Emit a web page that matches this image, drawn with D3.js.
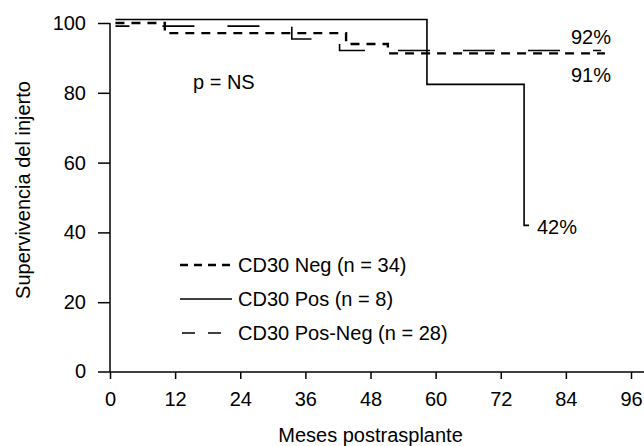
<!DOCTYPE html>
<html lang="es">
<head>
  <meta charset="UTF-8">
  <title>Supervivencia del injerto</title>
  <script src="https://d3js.org/d3.v7.min.js"></script>
  <style>
    body { margin: 0; background: #fff; }
    text { font-family: "Liberation Sans", Arial, sans-serif; font-size: 20px; fill: #000; }
  </style>
</head>
<body>
  <svg width="644" height="446"></svg>

  <script>
    // curvas (meses, % supervivencia)
    const negMonths = [1, 10.1, 43.5, 51.2, 91.2];
    const negSurv = [100, 97.1, 94.0, 91.3, 91.3];
    const posMonths = [1, 58.4, 76.3, 77.2];
    const posSurv = [101, 82.4, 42, 42];
    const posNegMonths = [1, 33.5, 42.3, 90.5];
    const posNegSurv = [99.1, 95.4, 92.1, 92.1];

    const xTicks = [0, 12, 24, 36, 48, 60, 72, 84, 96];
    const yTicks = [0, 20, 40, 60, 80, 100];
    const legendLabels = ["CD30 Neg (n = 34)", "CD30 Pos (n = 8)", "CD30 Pos-Neg (n = 28)"];
    const endLabels = ["92%", "91%", "42%"];

    const svg = d3.select("svg");

    const x = d3.scaleLinear().domain([0, 96]).range([110, 631]);
    const y = d3.scaleLinear().domain([0, 100]).range([372, 23]);

    // ejes
    const gx = svg.append("g")
      .attr("transform", `translate(0,${y(0)})`)
      .call(d3.axisBottom(x).tickValues(xTicks).tickSize(7).tickPadding(13).tickSizeOuter(0));
    gx.select(".domain").remove();
    gx.selectAll("line").attr("stroke", "#000").attr("stroke-width", 1.5);
    gx.selectAll("text").style("font-size", "20px").attr("font-family", null);
    svg.append("line")
      .attr("x1", 98).attr("x2", 644)
      .attr("y1", y(0)).attr("y2", y(0))
      .attr("stroke", "#000").attr("stroke-width", 1.5);

    const gy = svg.append("g")
      .attr("transform", `translate(${x(0)},0)`)
      .call(d3.axisLeft(y).tickValues(yTicks.filter(d => d > 0)).tickSize(12).tickPadding(12).tickSizeOuter(0));
    gy.select(".domain").remove();
    gy.selectAll("line").attr("stroke", "#000").attr("stroke-width", 1.5);
    gy.selectAll("text").style("font-size", "20px").attr("font-family", null);
    svg.append("text")
      .attr("x", 86).attr("y", y(0)).attr("dy", "0.32em")
      .attr("text-anchor", "end").text(yTicks[0]);
    svg.append("line")
      .attr("x1", x(0)).attr("x2", x(0))
      .attr("y1", y(0)).attr("y2", y(100))
      .attr("stroke", "#000").attr("stroke-width", 1.5);

    svg.append("text")
      .attr("transform", "translate(30,190) rotate(-90)")
      .attr("text-anchor", "middle")
      .text("Supervivencia del injerto");

    svg.append("text")
      .attr("x", (x(0) + x(96)) / 2).attr("y", 442)
      .attr("text-anchor", "middle")
      .text("Meses postrasplante");

    // curvas
    const line = d3.line()
      .x(d => x(d[0]))
      .y(d => y(d[1]))
      .curve(d3.curveStepAfter);

    const series = [
      { months: negMonths, surv: negSurv, dash: "9,7", width: 2.4, offset: 0 },
      { months: posMonths, surv: posSurv, dash: null, width: 1.6, offset: 0 },
      { months: posNegMonths, surv: posNegSurv, dash: "32,33", width: 1.6, offset: 18 }
    ];

    series.forEach(s => {
      svg.append("path")
        .datum(d3.zip(s.months, s.surv))
        .attr("d", line)
        .attr("fill", "none")
        .attr("stroke", "#000")
        .attr("stroke-width", s.width)
        .attr("stroke-dasharray", s.dash)
        .attr("stroke-dashoffset", s.offset);
    });

    // etiquetas finales
    svg.append("text").attr("x", 571).attr("y", 44).text(endLabels[0]);
    svg.append("text").attr("x", 571).attr("y", 82).text(endLabels[1]);
    svg.append("text").attr("x", 537).attr("y", 234).text(endLabels[2]);

    svg.append("text").attr("x", 193).attr("y", 89).text("p = NS");

    // leyenda
    const legendDash = ["8,6", null, "13,13"];
    const legendWidth = [2.4, 1.6, 1.6];
    const legendStart = [180, 180, 182];
    const legendEnd = [232, 232, 221];
    const legend = svg.append("g");
    legendLabels.forEach((lab, i) => {
      const ly = 265 + i * 34;
      legend.append("line")
        .attr("x1", legendStart[i]).attr("x2", legendEnd[i])
        .attr("y1", ly).attr("y2", ly)
        .attr("stroke", "#000")
        .attr("stroke-width", legendWidth[i])
        .attr("stroke-dasharray", legendDash[i]);
      legend.append("text")
        .attr("x", 238).attr("y", ly).attr("dy", "0.35em")
        .text(lab);
    });
  </script>
</body>
</html>
